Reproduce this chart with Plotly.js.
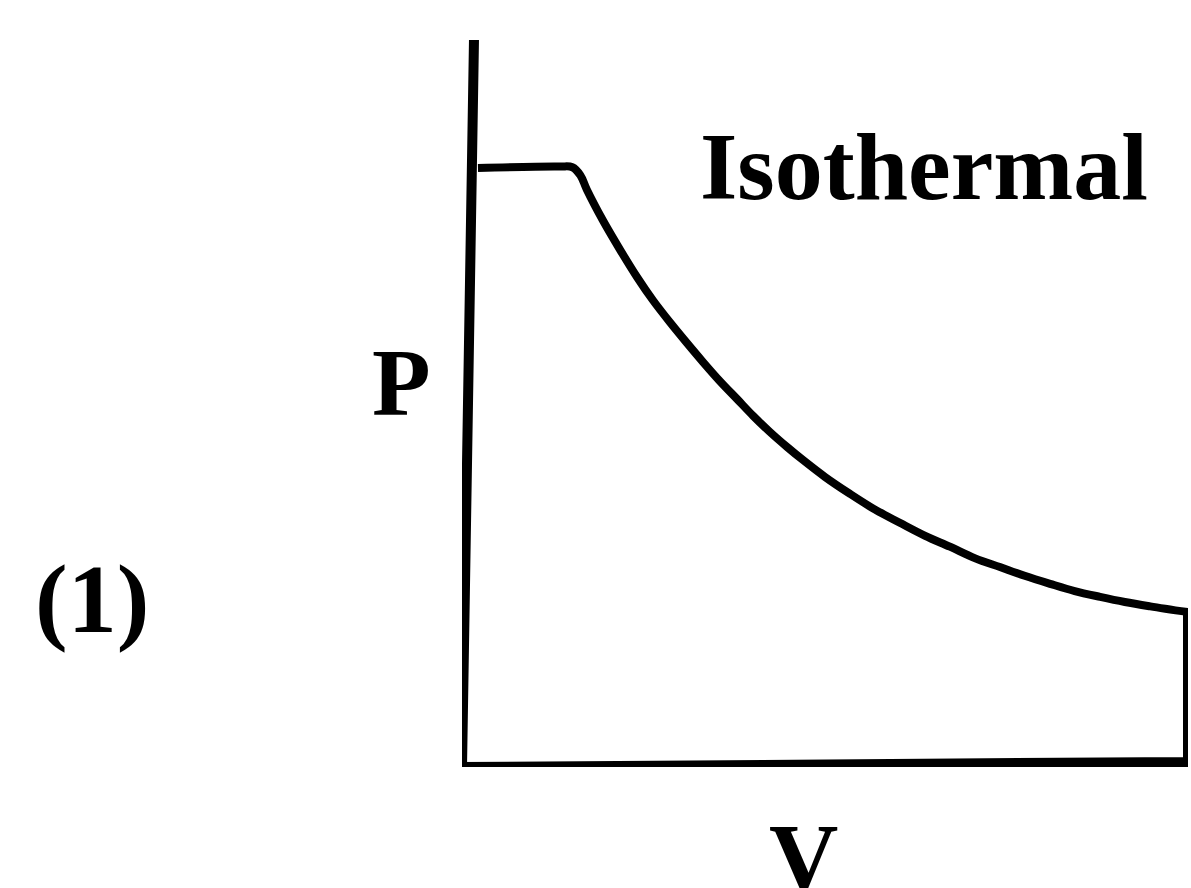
<!DOCTYPE html>
<html>
<head>
<meta charset="utf-8">
<script src="https://cdn.plot.ly/plotly-3.0.1.min.js"></script>
<style>html,body{margin:0;padding:0;background:#fff;}#chart{width:1191px;height:888px;}</style>
</head>
<body>
<div id="chart"></div>
<script>
// Axes outline (hand-drawn, slightly slanted P axis), in V/P units
var axisV = [0.165, 0.138, 0.069, 0.014, 0, 10, 10];
var axisP = [10.0, 8.35, 4.22, 1.75, 0, 0.07, 2.13];

// Isothermal process curve: constant-pressure plateau then smooth fall
var curveV = [0.22, 1.35, 1.52, 1.63, 1.72, 1.94, 2.18, 2.41, 2.63, 2.87, 3.10, 3.32, 3.55, 3.79, 4.01, 4.24, 4.48, 4.70, 5.00, 5.34, 5.69, 6.03, 6.38, 6.72, 7.07, 7.41, 7.75, 8.10, 8.44, 8.79, 9.13, 9.48, 10.0];
var curveP = [8.24, 8.26, 8.25, 8.14, 7.94, 7.52, 7.11, 6.74, 6.42, 6.11, 5.83, 5.57, 5.31, 5.06, 4.83, 4.61, 4.40, 4.22, 3.99, 3.76, 3.54, 3.36, 3.18, 3.03, 2.87, 2.75, 2.63, 2.52, 2.42, 2.34, 2.27, 2.21, 2.13];

var curveLabel = "Isothermal";
var yLabel = "P";
var xLabel = "V";
var panelLabel = "(1)";

var fontFam = "Liberation Serif, serif";

var traces = [
  {x: axisV, y: axisP, mode: "lines", line: {color: "#000", width: 10, shape: "linear"}, cliponaxis: false, hoverinfo: "skip"},
  {x: curveV, y: curveP, mode: "lines", line: {color: "#000", width: 8, shape: "spline", smoothing: 1}, cliponaxis: false, hoverinfo: "skip"}
];

var layout = {
  width: 1191, height: 888,
  margin: {l: 462, r: 3, t: 40, b: 121, pad: 0},
  paper_bgcolor: "#fff", plot_bgcolor: "#fff",
  showlegend: false,
  xaxis: {range: [0, 10], visible: false, fixedrange: true},
  yaxis: {range: [0, 10], visible: false, fixedrange: true},
  annotations: [
    {text: "<b>" + curveLabel + "</b>", x: 6.37, y: 8.26, xref: "x", yref: "y", showarrow: false, xanchor: "center", yanchor: "middle", font: {family: fontFam, size: 96, color: "#000"}},
    {text: "<b>" + yLabel + "</b>", x: -0.084, y: 0.529, xref: "paper", yref: "paper", showarrow: false, xanchor: "center", yanchor: "middle", font: {family: fontFam, size: 96, color: "#000"}},
    {text: "<b>" + xLabel + "</b>", x: 0.470, y: -0.124, xref: "paper", yref: "paper", showarrow: false, xanchor: "center", yanchor: "middle", font: {family: fontFam, size: 96, color: "#000"}},
    {text: "<b>" + panelLabel + "</b>", x: -0.5096, y: 0.231, xref: "paper", yref: "paper", showarrow: false, xanchor: "center", yanchor: "middle", font: {family: fontFam, size: 98, color: "#000"}}
  ]
};

Plotly.newPlot("chart", traces, layout, {displayModeBar: false, staticPlot: true});
</script>
</body>
</html>
